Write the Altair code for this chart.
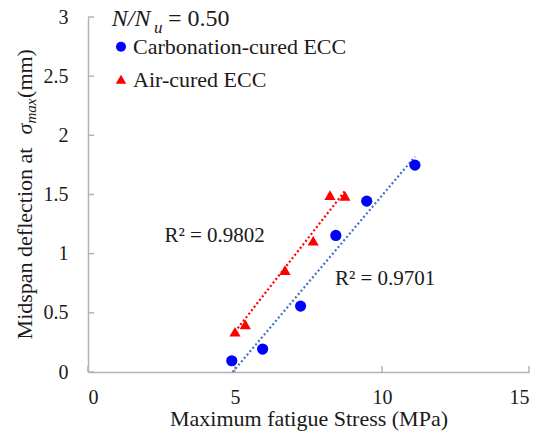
import altair as alt
import pandas as pd

# ---- data ----
carb_x = [4.89, 5.94, 7.23, 8.43, 9.48, 11.12]
carb_y = [0.095, 0.194, 0.557, 1.154, 1.444, 1.748]
air_x = [5.00, 5.35, 6.70, 7.66, 8.23, 8.74]
air_y = [0.340, 0.403, 0.861, 1.109, 1.495, 1.489]

carb_trend_x = [4.92, 11.12]
carb_trend_y = [0.0, 1.82]
air_trend_x = [5.00, 8.74]
air_trend_y = [0.34, 1.53]

series = ["Carbonation-cured ECC", "Air-cured ECC"]
series_colors = ["#0000FF", "#FF0000"]
series_shapes = ["circle", "triangle-up"]

x_ticks = [0, 5, 10, 15]
y_ticks = [0, 0.5, 1, 1.5, 2, 2.5, 3]

r2_labels = ["R² = 0.9802", "R² = 0.9701"]
r2_x = [2.6, 8.4]
r2_y = [1.095, 0.735]

W, H = 441, 355
FONT = "Liberation Serif"
TXT = "#1a1a1a"
AX = "#b3b3b3"

pts = pd.DataFrame({
    "x": carb_x + air_x,
    "y": carb_y + air_y,
    "s": [series[0]] * len(carb_x) + [series[1]] * len(air_x),
})
xs = alt.Scale(domain=[0, 15], nice=False, zero=False)
ys = alt.Scale(domain=[0, 3], nice=False, zero=False)

xaxis = alt.Axis(values=x_ticks, grid=False, ticks=False, labelPadding=15,
                 labelFontSize=20, labelFont=FONT, labelColor=TXT,
                 domainColor=AX, domainWidth=1.5,
                 title="Maximum fatigue Stress (MPa)", titleFont=FONT,
                 titleFontSize=22, titleFontWeight="normal", titleColor=TXT,
                 titleY=53, titleBaseline="alphabetic")
yaxis = alt.Axis(values=y_ticks, grid=False, ticks=False, labelPadding=20,
                 format=".1~f", labelFontSize=20, labelFont=FONT, labelColor=TXT,
                 domainColor=AX, domainWidth=1.5, title=None)

points = alt.Chart(pts).mark_point(filled=True, opacity=1, size=125).encode(
    x=alt.X("x:Q", scale=xs, axis=xaxis),
    y=alt.Y("y:Q", scale=ys, axis=yaxis),
    color=alt.Color("s:N", scale=alt.Scale(domain=series, range=series_colors), legend=None),
    shape=alt.Shape("s:N", scale=alt.Scale(domain=series, range=series_shapes), legend=None),
)

def trend(xv, yv, color):
    return alt.Chart(pd.DataFrame({"x": xv, "y": yv})).mark_line(
        color=color, strokeWidth=2.2, strokeDash=[2, 2.4]
    ).encode(x=alt.X("x:Q", scale=xs), y=alt.Y("y:Q", scale=ys))

t_carb = trend(carb_trend_x, carb_trend_y, "#4472C4")
t_air = trend(air_trend_x, air_trend_y, "#FF0000")

ytick_rules = alt.Chart(pd.DataFrame({"v": y_ticks})).mark_rule(color=AX, strokeWidth=1.5).encode(
    y=alt.Y("v:Q", scale=ys), x=alt.value(0), x2=alt.value(6))
xtick_rules = alt.Chart(pd.DataFrame({"v": x_ticks})).mark_rule(color=AX, strokeWidth=1.5).encode(
    x=alt.X("v:Q", scale=xs), y=alt.value(H), y2=alt.value(H - 6))

r2 = alt.Chart(pd.DataFrame({"t": r2_labels, "x": r2_x, "y": r2_y})).mark_text(
    align="left", baseline="alphabetic", font=FONT, fontSize=21, color=TXT
).encode(x=alt.X("x:Q", scale=xs), y=alt.Y("y:Q", scale=ys), text="t:N")

# text pieces (legend labels, N/Nu label, y-axis title), positioned in pixels
txt_items = [
    # text, x, y, size, style, align, baseline, angle
    (series[0], 45, 30, 22, "normal", "left", "middle", 0),
    (series[1], 45, 63, 22, "normal", "left", "middle", 0),
    ("N/N", 23.7, 9, 24, "italic", "left", "alphabetic", 0),
    ("u", 66, 15.5, 17, "italic", "left", "alphabetic", 0),
    ("= 0.50", 80, 9, 24, "normal", "left", "alphabetic", 0),
    ("Midspan deflection at", -56.5, 226.5, 22, "normal", "center", "alphabetic", 270),
    ("σ", -56.5, 112, 22, "italic", "center", "alphabetic", 270),
    ("max", -52.5, 94, 15, "italic", "center", "alphabetic", 270),
    ("(mm)", -56.5, 56.5, 22, "normal", "center", "alphabetic", 270),
]

def ptext(i):
    t, x, y, size, style, align, base, angle = txt_items[i]
    kw = dict(font=FONT, fontSize=size, color=TXT, align=align, baseline=base, fontStyle=style)
    if angle:
        kw["angle"] = angle
    d = pd.DataFrame({"t": [t]})
    return alt.Chart(d).mark_text(**kw).encode(x=alt.value(x), y=alt.value(y), text="t:N")

texts = [ptext(i) for i in range(len(txt_items))]

# legend symbols
leg = pd.DataFrame({"s": series})
leg_c = alt.Chart(leg.iloc[[0]]).mark_point(filled=True, opacity=1, shape="circle", size=100,
                                             color=series_colors[0]).encode(x=alt.value(33), y=alt.value(29.7))
leg_t = alt.Chart(leg.iloc[[1]]).mark_point(filled=True, opacity=1, shape="triangle-up", size=110,
                                             color=series_colors[1]).encode(x=alt.value(33), y=alt.value(62.3))

chart = alt.layer(
    r2, *texts, ytick_rules, xtick_rules, t_carb, t_air, points, leg_c, leg_t
).properties(
    width=W, height=H,
    autosize=alt.AutoSizeParams(type="none"),
    padding={"left": 88, "top": 17, "right": 17, "bottom": 62},
).configure_view(strokeWidth=0)

chart.save("out.html", embed_options={"renderer": "svg", "actions": False})
